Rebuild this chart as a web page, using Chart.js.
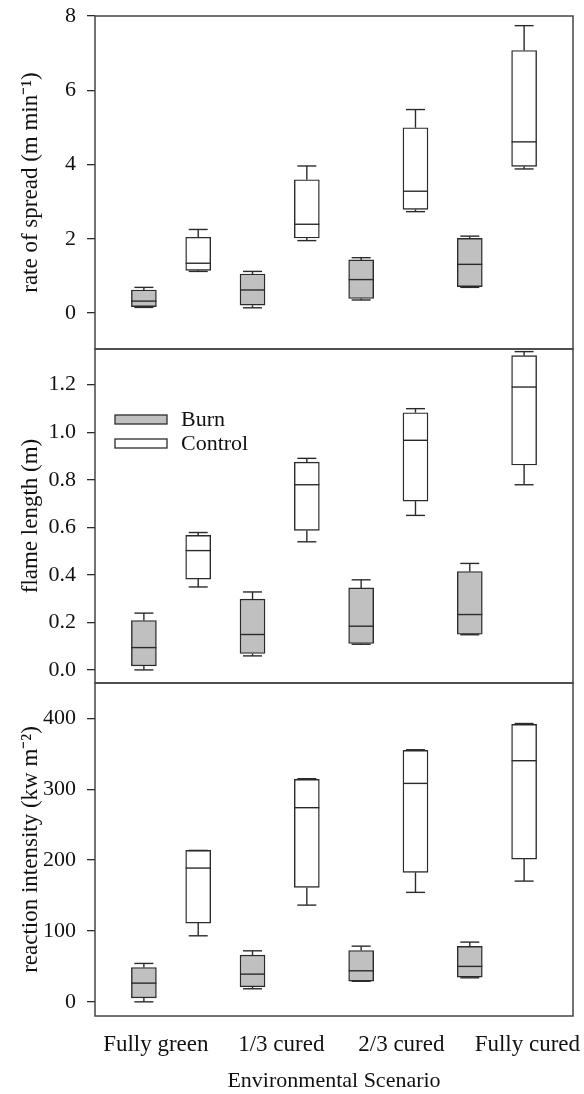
<!DOCTYPE html>
<html>
<head>
<meta charset="utf-8">
<script src="https://cdn.jsdelivr.net/npm/chart.js@4.4.1/dist/chart.umd.min.js"></script>
<style>
  html, body { margin: 0; padding: 0; background: #fff; }
  body { width: 584px; height: 1094px; position: relative; overflow: hidden; }
  .panel { position: absolute; left: 0; width: 584px; }
</style>
</head>
<body>
<div class="panel" style="top:0;height:352px"><canvas id="g1"></canvas></div>
<div class="panel" style="top:346px;height:340px"><canvas id="g2"></canvas></div>
<div class="panel" style="top:680px;height:414px"><canvas id="g3"></canvas></div>
<script>
// ============================================================
//  Datos: [min, q1, mediana, q3, max] por escenario
// ============================================================
const ESCENARIOS = ['Fully green', '1/3 cured', '2/3 cured', 'Fully cured'];
const SERIES = ['Burn', 'Control'];

const ROS_BURN    = [[0.15, 0.17, 0.32, 0.62, 0.69], [0.14, 0.21, 0.62, 1.05, 1.12], [0.35, 0.39, 0.90, 1.43, 1.49], [0.69, 0.71, 1.31, 2.01, 2.07]];
const ROS_CONTROL = [[1.12, 1.15, 1.34, 2.04, 2.25], [1.95, 2.02, 2.39, 3.59, 3.96], [2.73, 2.79, 3.28, 4.99, 5.48], [3.88, 3.95, 4.61, 7.07, 7.74]];

const FL_BURN    = [[0.00, 0.017, 0.094, 0.208, 0.239], [0.059, 0.069, 0.149, 0.298, 0.328], [0.108, 0.111, 0.184, 0.345, 0.379], [0.148, 0.150, 0.233, 0.414, 0.448]];
const FL_CONTROL = [[0.349, 0.382, 0.502, 0.566, 0.578], [0.539, 0.587, 0.779, 0.874, 0.890], [0.650, 0.710, 0.966, 1.082, 1.099], [0.779, 0.862, 1.190, 1.322, 1.339]];

const RI_BURN    = [[0, 5.6, 26.4, 48.5, 54.2], [18.4, 21.2, 39.1, 65.9, 72], [29, 29.2, 43.8, 72.5, 78.6], [33.9, 34.9, 50, 78.2, 84.3]];
const RI_CONTROL = [[93.2, 111.1, 188.8, 213.7, 213.7], [136.5, 161.5, 274, 314, 314.9], [154.5, 182.7, 308.3, 354.9, 355.8], [170.4, 201.5, 340.3, 391.6, 392.8]];

const TICKS_ROS = [0, 2, 4, 6, 8];
const TICKS_FL  = [0, 0.2, 0.4, 0.6, 0.8, 1.0, 1.2];
const TICKS_RI  = [0, 100, 200, 300, 400];

// ---------------------------------------------------------------
// Estilo
// ---------------------------------------------------------------
const FUENTE = "'Liberation Serif', 'Times New Roman', serif";
const TINTA = '#2b2b2b';
const RELLENO = ['#c0c0c0', '#ffffff'];
const POS_ETIQUETAS = [1.22, 3.53, 5.74, 8.06];   // donde caen los nombres de escenario

// ---------------------------------------------------------------
// Plugin: bigotes, medianas y marco
// ---------------------------------------------------------------
const cajas = {
  id: 'cajas',
  afterDatasetsDraw(chart) {
    const ctx = chart.ctx;
    const y = chart.scales.y;
    const linea = (x1, y1, x2, y2) => { ctx.beginPath(); ctx.moveTo(x1, y1); ctx.lineTo(x2, y2); ctx.stroke(); };
    ctx.save();
    ctx.strokeStyle = TINTA;
    ctx.lineWidth = 1.4;
    chart.data.datasets.forEach((ds, di) => {
      chart.getDatasetMeta(di).data.forEach((bar, i) => {
        const [mn, q1, med, q3, mx] = ds.stats[i];
        const half = bar.width / 2, cap = bar.width * 0.38;
        const pMed = y.getPixelForValue(med);
        linea(bar.x - half, pMed, bar.x + half, pMed);
        const pMax = y.getPixelForValue(mx), pQ3 = y.getPixelForValue(q3);
        linea(bar.x, pQ3, bar.x, pMax);
        linea(bar.x - cap, pMax, bar.x + cap, pMax);
        const pMin = y.getPixelForValue(mn), pQ1 = y.getPixelForValue(q1);
        linea(bar.x, pQ1, bar.x, pMin);
        linea(bar.x - cap, pMin, bar.x + cap, pMin);
      });
    });
    const a = chart.chartArea;
    ctx.lineWidth = 1.5;
    ctx.strokeStyle = '#444';
    ctx.strokeRect(a.left, a.top, a.right - a.left, a.bottom - a.top);
    ctx.restore();
  }
};

// Leyenda dentro del área (solo panel central)
const leyenda = {
  id: 'leyenda',
  afterDraw(chart) {
    if (!chart.options.plugins.leyenda.show) return;
    const ctx = chart.ctx, a = chart.chartArea;
    ctx.save();
    ctx.font = '22px ' + FUENTE;
    ctx.textBaseline = 'middle';
    chart.data.datasets.forEach((ds, i) => {
      const yy = a.top + 66 + i * 24;
      ctx.fillStyle = ds.backgroundColor;
      ctx.fillRect(a.left + 20, yy, 52, 9);
      ctx.strokeStyle = TINTA;
      ctx.lineWidth = 1.3;
      ctx.strokeRect(a.left + 20, yy, 52, 9);
      ctx.fillStyle = '#111';
      ctx.fillText(ds.label, a.left + 86, yy + 5);
    });
    ctx.restore();
  }
};

// ---------------------------------------------------------------
// Construcción de cada panel
// ---------------------------------------------------------------
function crearPanel(id, burn, control, ticks, yMin, yMax, titulo, dec, extra) {
  const datasets = [burn, control].map((serie, s) => ({
    label: SERIES[s],
    data: serie.map((v, i) => ({ x: 2 * i + 1 + s, y: [v[1], v[3]] })),
    stats: serie,
    backgroundColor: RELLENO[s],
    borderColor: TINTA,
    borderWidth: 1.4,
    borderSkipped: false,
    barThickness: 25,
    grouped: false
  }));

  return new Chart(document.getElementById(id), {
    type: 'bar',
    data: { datasets },
    options: {
      responsive: true,
      maintainAspectRatio: false,
      animation: false,
      layout: { padding: { top: extra.padTop, bottom: extra.padBottom, right: 11, left: 0 } },
      plugins: {
        legend: { display: false },
        tooltip: { enabled: false },
        leyenda: { show: !!extra.leyenda }
      },
      scales: {
        x: {
          type: 'linear',
          min: 0.1, max: 8.9,
          offset: false,
          display: !!extra.ejeX,
          grid: { display: false },
          border: { display: false },
          afterBuildTicks: sc => { sc.ticks = POS_ETIQUETAS.map(v => ({ value: v })); },
          afterFit: sc => {
            if (extra.ejeX) sc.height = 78;
            sc.paddingLeft = 0; sc.paddingRight = 0;
          },
          ticks: {
            autoSkip: false, maxRotation: 0, padding: 7,
            color: '#111', font: { family: FUENTE, size: 23 },
            callback: (v, i) => ESCENARIOS[i]
          },
          title: {
            display: true, text: 'Environmental Scenario',
            color: '#111', font: { family: FUENTE, size: 22 },
            padding: { top: 0, bottom: 0 }
          }
        },
        y: {
          min: yMin, max: yMax,
          afterBuildTicks: sc => { sc.ticks = ticks.map(v => ({ value: v })); },
          afterFit: sc => { sc.width = 95; sc.paddingTop = 0; sc.paddingBottom = 0; },
          grid: { drawOnChartArea: false, drawTicks: true, tickLength: 8, color: TINTA, lineWidth: 1.3 },
          border: { display: false },
          ticks: {
            padding: 11, color: '#111', font: { family: FUENTE, size: 22 },
            callback: v => v.toFixed(dec)
          },
          title: {
            display: true, text: titulo,
            color: '#111', font: { family: FUENTE, size: 23 },
            padding: { top: 17, bottom: 0 }
          }
        }
      }
    },
    plugins: [cajas, leyenda]
  });
}

crearPanel('g1', ROS_BURN, ROS_CONTROL, TICKS_ROS, -0.97, 8, 'rate of spread (m min\u207B\u00B9)', 0, { padTop: 16, padBottom: 3 });
crearPanel('g2', FL_BURN, FL_CONTROL, TICKS_FL, -0.055, 1.35, 'flame length (m)', 1, { padTop: 3, padBottom: 3, leyenda: true });
crearPanel('g3', RI_BURN, RI_CONTROL, TICKS_RI, -20, 450, 'reaction intensity (kw m\u207B\u00B2)', 0, { padTop: 3, padBottom: 0, ejeX: true });
</script>
</body>
</html>
